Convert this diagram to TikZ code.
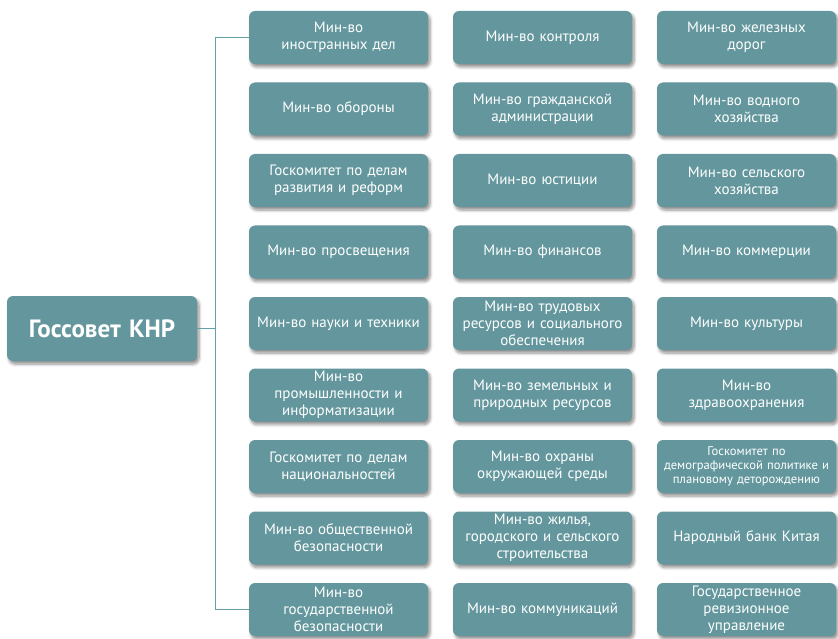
\documentclass[tikz,border=0pt]{standalone}
\usepackage{fontspec}
\setmainfont{PT Sans}
\usetikzlibrary{shadows.blur}
\definecolor{boxteal}{RGB}{99,151,157}
\definecolor{lineteal}{RGB}{100,160,165}
\tikzset{
  orgbox/.style={draw=none, fill=boxteal, rounded corners=6pt,
    minimum width=179pt, minimum height=53pt, text width=177pt,
    inner sep=0pt, align=center, text=white,
    font=\fontsize{15}{17}\selectfont,
    blur shadow={shadow xshift=2pt, shadow yshift=-3pt, shadow blur steps=6, shadow opacity=45, shadow blur radius=3pt}},
  smalltext/.style={font=\fontsize{12.6}{14}\selectfont},
  rootbox/.style={orgbox, minimum width=190pt, minimum height=65pt, text width=186pt,
    font=\fontsize{25}{28}\selectfont\bfseries},
  conn/.style={draw=lineteal, line width=1pt}
}
\begin{document}
\begin{tikzpicture}[x=1pt,y=-1pt]
\useasboundingbox (0,0) rectangle (838,639);
% column 1
\node[orgbox] (c1r1) at (338.5,37.5) {Мин-во\\иностранных дел};
\node[orgbox] (c1r2) at (338.5,109) {Мин-во обороны};
\node[orgbox] (c1r3) at (338.5,180.5) {Госкомитет по делам\\развития и реформ};
\node[orgbox] (c1r4) at (338.5,252) {Мин-во просвещения};
\node[orgbox] (c1r5) at (338.5,323.5) {Мин-во науки и техники};
\node[orgbox] (c1r6) at (338.5,395) {Мин-во\\промышленности и\\информатизации};
\node[orgbox] (c1r7) at (338.5,466.5) {Госкомитет по делам\\национальностей};
\node[orgbox] (c1r8) at (338.5,538) {Мин-во общественной\\безопасности};
\node[orgbox] (c1r9) at (338.5,609.5) {Мин-во\\государственной\\безопасности};
% column 2
\node[orgbox] (c2r1) at (542.5,37.5) {Мин-во контроля};
\node[orgbox] (c2r2) at (542.5,109) {Мин-во гражданской\\администрации};
\node[orgbox] (c2r3) at (542.5,180.5) {Мин-во юстиции};
\node[orgbox] (c2r4) at (542.5,252) {Мин-во финансов};
\node[orgbox] (c2r5) at (542.5,323.5) {Мин-во трудовых\\ресурсов и социального\\обеспечения};
\node[orgbox] (c2r6) at (542.5,395) {Мин-во земельных и\\природных ресурсов};
\node[orgbox] (c2r7) at (542.5,466.5) {Мин-во охраны\\окружающей среды};
\node[orgbox] (c2r8) at (542.5,538) {Мин-во жилья,\\городского и сельского\\строительства};
\node[orgbox] (c2r9) at (542.5,609.5) {Мин-во коммуникаций};
% column 3
\node[orgbox] (c3r1) at (746.5,37.5) {Мин-во железных\\дорог};
\node[orgbox] (c3r2) at (746.5,109) {Мин-во водного\\хозяйства};
\node[orgbox] (c3r3) at (746.5,180.5) {Мин-во сельского\\хозяйства};
\node[orgbox] (c3r4) at (746.5,252) {Мин-во коммерции};
\node[orgbox] (c3r5) at (746.5,323.5) {Мин-во культуры};
\node[orgbox] (c3r6) at (746.5,395) {Мин-во\\здравоохранения};
\node[orgbox, smalltext] (c3r7) at (746.5,466.5) {Госкомитет по\\демографической политике и\\плановому деторождению};
\node[orgbox] (c3r8) at (746.5,538) {Народный банк Китая};
\node[orgbox] (c3r9) at (746.5,609.5) {Государственное\\ревизионное\\управление};
% root
\node[rootbox] (root) at (102,328.5) {Госсовет КНР};
% connectors
\coordinate (trunk) at (215,37.5);
\draw[conn] (c1r1.west) -- (trunk) -- (trunk |- c1r9.west) -- (c1r9.west);
\draw[conn] (root.east) -- (root.east -| trunk);
\end{tikzpicture}
\end{document}
